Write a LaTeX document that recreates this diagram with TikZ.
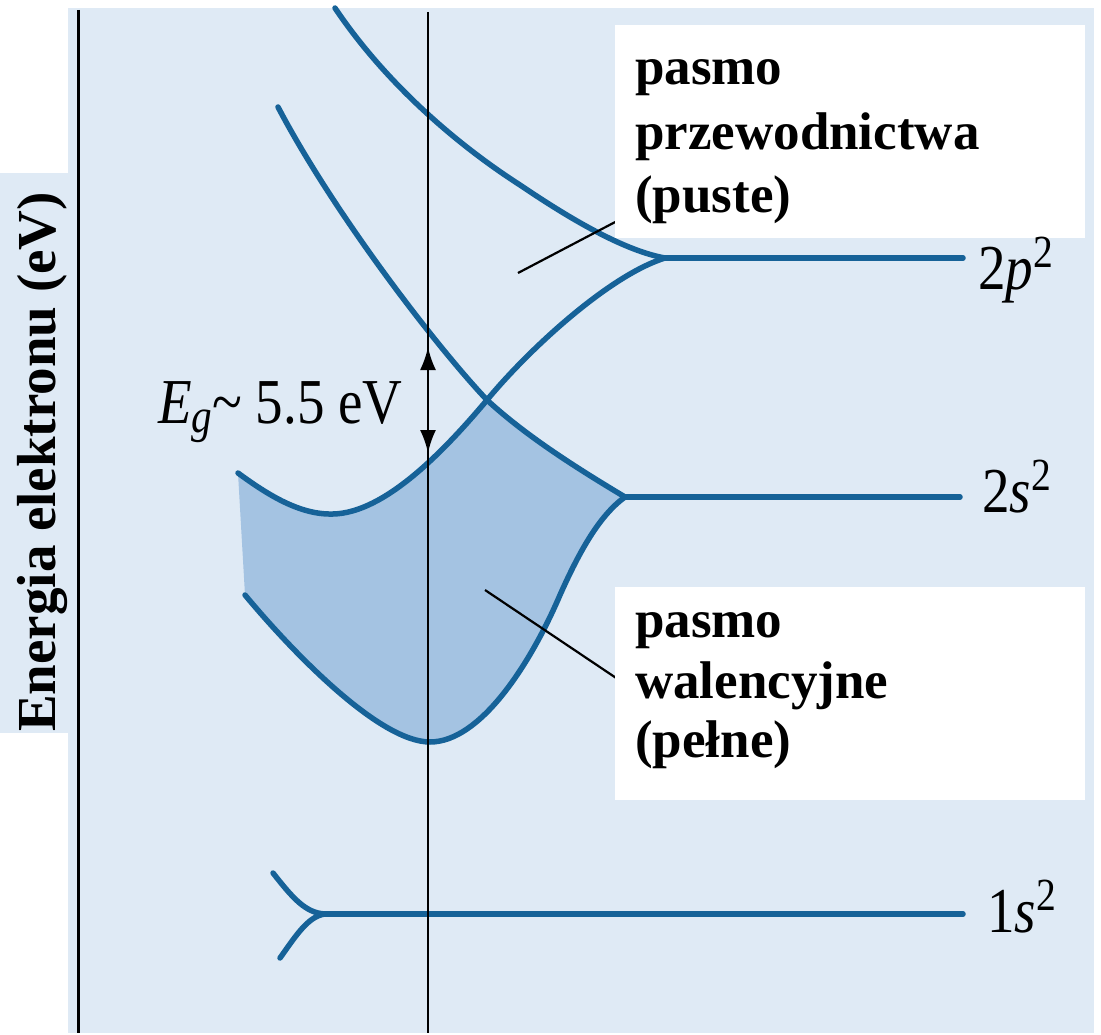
\documentclass[tikz,border=0pt]{standalone}
\usepackage{fontspec}
\usepackage{graphicx}
\setmainfont{Liberation Serif}
\usetikzlibrary{arrows.meta}
\definecolor{bgblue}{RGB}{223,234,245}
\definecolor{fillblue}{RGB}{164,195,226}
\definecolor{curveblue}{RGB}{22,98,152}
\begin{document}
\begin{tikzpicture}[x=1pt,y=-1pt,
  band/.style={draw=curveblue,line width=5.5pt,line cap=round,line join=round},
  axisline/.style={draw=black,line width=3pt},
  midline/.style={draw=black,line width=2.4pt},
  ptr/.style={draw=black,line width=2.2pt},
  lvl/.style={font=\fontsize{64}{64}\selectfont,inner sep=0pt,anchor=base west},
  supr/.style={},
  boxtxt/.style={font=\fontsize{53}{64}\selectfont\bfseries,inner sep=0pt,anchor=base west},
  whitebox/.style={fill=white,draw=none,inner sep=0pt,minimum width=470pt,minimum height=213pt}]
\useasboundingbox (0,0) rectangle (1101,1035);
% background
\fill[white] (0,0) rectangle (1101,1035);
\fill[bgblue] (0,8) rectangle (1094,1033);
\fill[white] (0,0) rectangle (68,173);
\fill[white] (0,733) rectangle (68,1035);
% filled valence band
\fill[fillblue] (238,473) .. controls (268,495) and (300,515) .. (333,514)
  .. controls (385,513) and (445,450) .. (487,400)
  .. controls (527,437) and (580,470) .. (625,497)
  .. controls (600,515) and (580,550) .. (560,595)
  .. controls (530,665) and (480,742) .. (430,742)
  .. controls (380,742) and (295,655) .. (245,595) -- cycle;
% coordinates of levels
\coordinate (c2p) at (665,258);
\coordinate (e2p) at (963,258);
\coordinate (c2s) at (625,497);
\coordinate (e2s) at (960,497);
\coordinate (c1s) at (325,914);
\coordinate (e1s) at (963,914);
% band curves
\draw[band] (238,473) .. controls (268,495) and (300,515) .. (333,514)
  .. controls (385,513) and (445,450) .. (487,400)
  .. controls (530,348) and (610,275) .. (c2p);
\draw[band] (335,8) .. controls (382,78) and (450,140) .. (520,185)
  .. controls (560,212) and (620,250) .. (c2p);
\draw[band] (278,107) .. controls (333,212) and (435,345) .. (487,400)
  .. controls (527,437) and (580,470) .. (c2s);
\draw[band] (c2s) .. controls (600,515) and (580,550) .. (560,595)
  .. controls (530,665) and (480,742) .. (430,742)
  .. controls (380,742) and (295,655) .. (245,595);
\draw[band] (273,873) .. controls (292,897) and (305,913) .. (c1s);
\draw[band] (c1s) .. controls (308,916) and (295,937) .. (280,958);
\draw[band] (c2p) -- (e2p);
\draw[band] (c2s) -- (e2s);
\draw[band] (c1s) -- (e1s);
% axes
\coordinate (axL1) at (78,10);
\coordinate (axL2) at (78,1033);
\coordinate (axM1) at (428,12);
\coordinate (axM2) at (428,1033);
\draw[axisline] (axL1) -- (axL2);
\draw[midline] (axM1) -- (axM2);
% gap arrow
\coordinate (gapT) at (428,347);
\coordinate (gapB) at (428,453);
\draw[line width=2.4pt,{Latex[length=23pt,width=16pt]}-{Latex[length=23pt,width=16pt]}] (gapT) -- (gapB);
\node[inner sep=0pt,anchor=base west,font=\fontsize{64}{64}\selectfont] (eg) at (158,423)
  {\scalebox{0.86}[1]{\textit{E}\raisebox{-9pt}{\fontsize{48}{48}\selectfont\textit{g}}\textasciitilde{} 5.5 eV}};
% pointers
\coordinate (cpA) at (518,273);
\coordinate (cpB) at (640,209);
\draw[ptr] (cpA) -- (cpB);
\coordinate (vpA) at (485,590);
\coordinate (vpB) at (640,694);
\draw[ptr] (vpA) -- (vpB);
% label boxes
\node[whitebox] (cbox) at (850,131.5) {};
\node[whitebox] (vbox) at (850,693.5) {};
\node[boxtxt] (ct1) at (635,85) {pasmo};
\node[boxtxt] (ct2) at (635,150) {przewodnictwa};
\node[boxtxt] (ct3) at (635,213) {(puste)};
\node[boxtxt] (vt1) at (635,637) {pasmo};
\node[boxtxt] (vt2) at (635,698) {walencyjne};
\node[boxtxt] (vt3) at (635,757) {(pełne)};
% level labels
\node[lvl] (l2p) at (978,290) {\scalebox{0.86}[1]{2\textit{p}\raisebox{22pt}{\fontsize{46}{46}\selectfont 2}}};
\node[lvl] (l2s) at (982,512) {\scalebox{0.86}[1]{2\textit{s}\raisebox{22pt}{\fontsize{46}{46}\selectfont 2}}};
\node[lvl] (l1s) at (987,932) {\scalebox{0.86}[1]{1\textit{s}\raisebox{22pt}{\fontsize{46}{46}\selectfont 2}}};
% axis label
\node[rotate=90,anchor=base,inner sep=0pt,font=\fontsize{55}{55}\selectfont\bfseries] (ylab) at (55,462) {Energia elektronu (eV)};
\end{tikzpicture}
\end{document}
